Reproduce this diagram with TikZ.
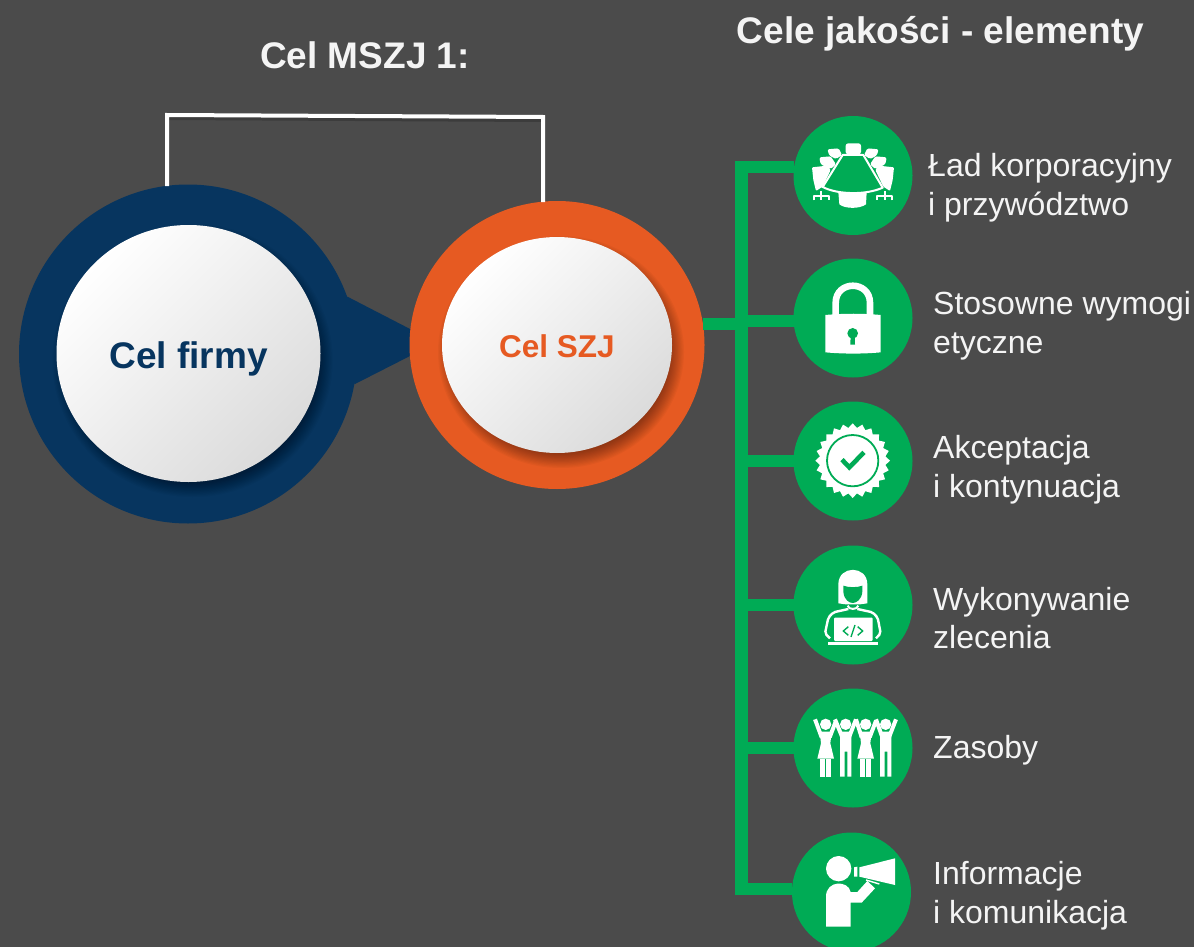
\documentclass[tikz,border=0pt]{standalone}
\usepackage{fontspec}
\setmainfont{Liberation Sans}
\usetikzlibrary{shapes.geometric,calc}
\definecolor{bgc}{HTML}{4B4B4B}
\definecolor{navy}{HTML}{07355F}
\definecolor{orng}{HTML}{E65A22}
\definecolor{grn}{HTML}{00AB55}
\definecolor{txtw}{HTML}{F4F4F4}
\newcommand{\softshade}[4]{%
  \foreach \i in {0,...,13}{%
    \fill[black,opacity=.03] ({#1+4},{#2+7}) ellipse [x radius={#3+8-\i*1.2},y radius={#4+8-\i*1.2}];
  }}
\tikzset{
  ring/.style={ellipse,draw=none,inner sep=0pt,outer sep=0pt},
  disc/.style={ellipse,inner sep=0pt,outer sep=0pt,top color=white,bottom color=black!14,shading angle=45,font=\bfseries},
  iconc/.style={circle,fill=grn,inner sep=0pt,outer sep=0pt,minimum size=119pt},
  branch/.style={draw=grn,line width=12pt},
  link/.style={draw=white,line width=4pt,line cap=butt,line join=miter},
  label/.style={anchor=west,align=left,text=txtw,font=\fontsize{32}{38.6}\selectfont,inner sep=0pt},
  title/.style={text=txtw,font=\fontsize{37}{42}\selectfont\bfseries,inner sep=0pt},
  ic/.style={x=0.33333pt,y=-0.33333pt}
}
\begin{document}
\begin{tikzpicture}[x=1pt,y=-1pt]
\useasboundingbox (0,0) rectangle (1194,947);
\clip (0,0) rectangle (1194,947);
\fill[bgc] (0,0) rectangle (1194,947);
% titles
\node[title] (t1) at (365,55) {Cel MSZJ 1:};
\node[title] (t2) at (940.5,34) {Cele jakości - elementy};
% blue ring with pointer
\node[ring,fill=navy,minimum width=338pt,minimum height=339pt] (firmring) at (188,354) {};
\coordinate (p1) at (347.5,296.7);
\coordinate (p4) at (355,384);
\coordinate (pt1) at (412,330);
\coordinate (pt2) at (412,355);
\fill[navy] (p1) -- (pt1) -- (pt2) -- (p4) -- (300,354) -- cycle;
\softshade{188.5}{353.5}{132}{128.5}
\node[disc,minimum width=264pt,minimum height=257pt,text=navy,font=\fontsize{37}{42}\selectfont\bfseries] (firm) at (188.5,353.5) {\raisebox{-14.5pt}[0pt][0pt]{Cel firmy}};
% orange ring
\node[ring,fill=orng,minimum width=295pt,minimum height=288pt] (szjring) at (557,345) {};
\softshade{557}{345}{115}{108}
\node[disc,minimum width=230pt,minimum height=216pt,text=orng,font=\fontsize{31.5}{36}\selectfont\bfseries] (szj) at (557,345) {\raisebox{-12pt}[0pt][0pt]{Cel SZJ}};
% white bracket
\coordinate (w1) at (167,115);
\coordinate (w2) at (543,117);
\draw[black,opacity=.2,line width=4pt] (169,118) -- (541,120);
\draw[link] ($(firmring.north -| w1)+(0,1.5)$) -- (w1) -- (w2) -- ($(szjring.north -| w2)+(0,1)$);
% icon circles
\node[iconc] (c1) at (853,175.5) {};
\node[iconc] (c2) at (853,318) {};
\node[iconc] (c3) at (853,461) {};
\node[iconc] (c4) at (853,605) {};
\node[iconc] (c5) at (853,748) {};
\node[iconc] (c6) at (851.5,892) {};
% green tree
\coordinate (tr) at (741.5,161);
\coordinate (j1) at (741.5,167);
\coordinate (j2) at (741.5,321);
\coordinate (j3) at (741.5,461);
\coordinate (j4) at (741.5,604.5);
\coordinate (j5) at (741.5,748);
\coordinate (j6) at (741.5,889);
\coordinate (tb) at (741.5,895);
\draw[draw=grn,line width=12.4pt] (tr) -- (tb);
\draw[branch] (szjring.8) -- (szjring.8 -| tr);
\draw[branch] (j1) -- (j1 -| c1.west);
\draw[branch] (j2) -- (j2 -| c2.west);
\draw[branch] (j3) -- (j3 -| c3.west);
\draw[branch] (j4) -- (j4 -| c4.west);
\draw[branch] (j5) -- (j5 -| c5.west);
\draw[branch] (j6) -- (j6 -| c6.west);
% labels
\node[label] (l1) at (928,188) {Ład korporacyjny\\i przywództwo};
\node[label] (l2) at (933,326) {Stosowne wymogi\\etyczne};
\node[label] (l3) at (933,469.5) {Akceptacja\\i kontynuacja};
\node[label] (l4) at (933,618) {Wykonywanie\\zlecenia};
\node[label] (l5) at (933,750) {Zasoby};
\node[label] (l6) at (933,895.5) {Informacje\\i komunikacja};
% icon 1: conference table
\begin{scope}[shift={(780,105)},ic]
  \foreach \s in {0,1}{
  \begin{scope}[shift={(\s*438,0)},xscale={1-2*\s}]
    \fill[white,rounded corners=1pt] (96,187) -- (142,182) -- (152,195) -- (128,245) -- (108,258) -- (100,225) -- cycle;
    \fill[white,rounded corners=1.5pt] (118,157) -- (152,154) -- (168,178) -- (152,192) -- (122,178) -- cycle;
    \fill[white,rounded corners=1.5pt] (142,133) -- (176,130) -- (186,150) -- (168,162) -- (148,152) -- cycle;
    \draw[white,line width=1.8pt,line join=round] (101,286) -- (101,274) -- (146,274) -- (146,286) (123,258) -- (123,286);
  \end{scope}}
  \fill[white,rounded corners=2.5pt] (197,148) -- (197,115) -- (243,115) -- (243,148) -- cycle;
  \fill[white] (175,262) -- (260,262) -- (258,298) .. controls (240,312) and (195,312) .. (178,298) -- cycle;
  \draw[white,fill=grn,line width=2pt,line join=round] (188,150) -- (250,150) -- (308,248) .. controls (260,270) and (175,270) .. (128,246) -- cycle;
\end{scope}
% icon 2: padlock
\begin{scope}[shift={(780,105)},ic]
  \draw[white,line width=6.6pt] (167,640) -- (167,594) .. controls (167,525) and (270,525) .. (270,594) -- (270,640);
  \fill[white] (136,630) .. controls (190,625) and (250,625) .. (302,630) -- (302,742) .. controls (250,747) and (190,747) .. (136,742) -- cycle;
  \fill[grn] (218,685) circle [x radius=16,y radius=16];
  \fill[grn] (212,690) -- (224,690) -- (225,719) -- (211,719) -- cycle;
\end{scope}
% icon 3: badge
\begin{scope}[shift={(780,395)},ic]
  \fill[white] (218+112,197)
    \foreach \a in {1,...,47}{ -- ({218+(112-13*mod(\a,2))*cos(\a*7.5)},{197+(112-13*mod(\a,2))*sin(\a*7.5)}) } -- cycle;
  \draw[grn,line width=1.8pt] (218,197) circle [x radius=77,y radius=77];
  \draw[grn,line width=4.6pt] (186,194) -- (208,217) -- (252,172);
\end{scope}
% icon 4: coder
\begin{scope}[shift={(780,395)},ic]
  \fill[white] (175,625) -- (175,568) .. controls (175,510) and (262,510) .. (262,568) -- (262,625) -- (240,628) -- (197,628) -- cycle;
  \fill[grn] (190,572) .. controls (205,578) and (232,578) .. (247,572) -- (247,590) .. controls (245,615) and (228,624) .. (218,624) .. controls (208,624) and (192,615) .. (190,590) -- cycle;
  \draw[white,line width=2pt,line join=round] (203,632) .. controls (205,645) and (232,645) .. (235,632);
  \draw[white,line width=2.4pt,rounded corners=2pt] (205,642) -- (160,652) -- (145,668) -- (135,715) -- (150,730);
  \draw[white,line width=2.4pt,rounded corners=2pt] (232,642) -- (278,652) -- (293,668) -- (302,715) -- (288,730);
  \fill[white,rounded corners=1pt] (162,668) rectangle (278,738);
  \fill[white] (143,741) rectangle (295,750);
  \draw[grn,line width=1.4pt] (205,695) -- (190,708) -- (205,721) (225,690) -- (213,726) (233,695) -- (248,708) -- (233,721);
\end{scope}
% icon 5: people
\begin{scope}[shift={(780,680)},ic]
  \foreach \cx/\la/\ra in {137/105/168,257/228/288}{
    \fill[white] (\cx,133) circle [x radius=17,y radius=17];
    \draw[white,line width=4pt,line join=round] (\la,118) -- (\cx-12,172) (\ra,122) -- (\cx+12,172);
    \fill[white] (\cx-18,155) -- (\cx+18,155) -- (\cx+14,190) -- (\cx+25,236) -- (\cx-25,236) -- (\cx-14,190) -- cycle;
    \fill[white] (\cx-17,236) rectangle (\cx-3,290);
    \fill[white] (\cx+1,236) rectangle (\cx+15,290);
  }
  \foreach \cx/\la/\ra in {197/165/228,317/288/348}{
    \fill[white] (\cx,133) circle [x radius=17,y radius=17];
    \draw[white,line width=4pt,line join=round] (\la,118) -- (\cx-10,172) (\ra,118) -- (\cx+10,172);
    \fill[white] (\cx-17,155) -- (\cx+17,155) -- (\cx+17,290) -- (\cx+5,290) -- (\cx+5,215) -- (\cx-3,215) -- (\cx-3,290) -- (\cx-17,290) -- cycle;
  }
\end{scope}
% icon 6: megaphone
\begin{scope}[shift={(780,680)},ic]
  \fill[white] (176,566) circle [x radius=38,y radius=38];
  \fill[white] (138,740) -- (138,650) .. controls (138,600) and (205,600) .. (212,636) -- (232,636) -- (262,603) -- (285,625) -- (245,668) -- (212,668) -- (212,740) -- cycle;
  \fill[white] (238,562) -- (345,535) -- (345,615) -- (238,590) -- cycle;
  \fill[white] (222,562) -- (232,560) -- (232,590) -- (222,590) -- cycle;
  \draw[white,line width=1.4pt] (258,600) -- (298,612);
\end{scope}
\end{tikzpicture}
\end{document}
